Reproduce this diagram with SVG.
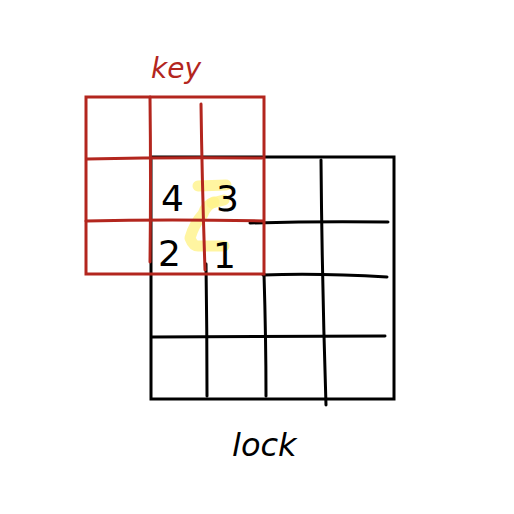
<svg xmlns="http://www.w3.org/2000/svg" width="514" height="514" viewBox="0 0 514 514">
<style>
.hl{fill:none;stroke:#fff38a;stroke-width:11;stroke-linecap:round;stroke-linejoin:round;opacity:0.8}
.blk{fill:none;stroke:#000;stroke-width:3;stroke-linecap:round}
.red{fill:none;stroke:#b3261e;stroke-width:3;stroke-linecap:round}
.num{font-family:"DejaVu Sans",sans-serif;font-size:36px;fill:#000}
.lbl{font-family:"DejaVu Sans",sans-serif;font-style:italic}
</style>
<rect width="514" height="514" fill="#fff"/>
<g id="highlight">
<path class="hl" d="M198 186 L226 185"/>
<path class="hl" d="M214 202 Q206 205 203 214 Q194 224 190 238 Q193 246 198 246 L224 246"/>
<path class="hl" d="M212 203 L224 200"/>
</g>
<g id="lock">
<rect class="blk" x="151" y="157" width="243" height="242" stroke-width="2.5"/>
<path class="blk" d="M250 223 Q320 221 388 222"/>
<path class="blk" d="M263 275 Q320 273 387 277"/>
<path class="blk" d="M152 337 Q270 336 385 336"/>
<path class="blk" d="M206 264 Q207 330 207 396"/>
<path class="blk" d="M264 274 Q266 340 266 396"/>
<path class="blk" d="M321 160 Q322 280 326 405"/>
<text class="lbl" x="232" y="456" font-size="32" fill="#000">lock</text>
</g>
<g id="key">
<rect class="red" x="86" y="97" width="178" height="177" stroke-width="2.5"/>
<path class="red" d="M87 159 Q170 157 262 158"/>
<path class="red" d="M86 221 Q170 219 263 221"/>
<path class="red" d="M150 97 Q151 180 150 262"/>
<path class="red" d="M201 104 Q202 180 205 270"/>
<text class="lbl" x="151" y="78" font-size="28" fill="#b3261e">key</text>
</g>
<g id="numbers">
<text class="num" x="161" y="211">4</text>
<text class="num" x="216" y="211">3</text>
<text class="num" x="158" y="266">2</text>
<text class="num" x="213" y="268">1</text>
</g>
</svg>
